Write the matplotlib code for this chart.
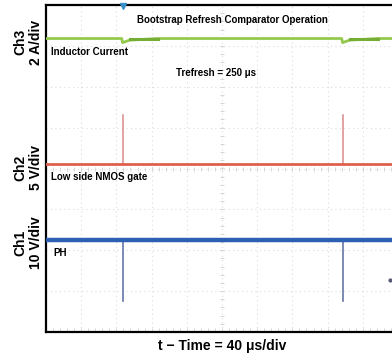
import numpy as np
import matplotlib
matplotlib.use("Agg")
import matplotlib.pyplot as plt

plt.rcParams['font.family'] = ['Liberation Sans', 'DejaVu Sans']

# Time axis: 40 us per division, 10 divisions
us_per_div = 40
t_start, t_end = 0, 400

# Refresh events (us)
refresh_times = [87, 337]

# Trace levels in screen divisions (0 = centre line)
ch3_level = 3.18          # inductor current baseline
ch3_dip = 3.08            # dip at refresh
ch2_level = 0.12          # low side NMOS gate baseline
ch2_peak = 1.32           # gate pulse top
ch1_level = -1.76         # PH node baseline
ch1_low = -3.25           # PH pulled low at refresh

W, H = 392, 360
fig = plt.figure(figsize=(W / 100, H / 100), dpi=100)
left, right, top, bottom = 46, 398, 5, 332
ax = fig.add_axes([left / W, 1 - bottom / H, (right - left) / W, (bottom - top) / H])
ax.set_xlim(t_start, t_end)
ax.set_ylim(-4, 4)
ax.set_xticks([]); ax.set_yticks([])
for s in ['left', 'top', 'bottom']:
    ax.spines[s].set_linewidth(1.6)
ax.spines['right'].set_visible(False)

# Graticule
grid_c = '#dcdcdc'
for k in range(1, 10):
    ax.axvline(k * us_per_div, color=grid_c, lw=0.8, ls=(0, (1, 3)), zorder=0)
for k in range(-3, 4):
    ax.axhline(k, color=grid_c, lw=0.8, ls=(0, (1, 3)), zorder=0)
minor_x = np.arange(t_start, t_end + 1, us_per_div / 5)
minor_y = np.arange(-4, 4.01, 0.2)
tick_c = '#d6d6d6'
ax.plot(minor_x, np.zeros_like(minor_x), '|', color=tick_c, ms=3, mew=0.7, zorder=0)
ax.plot(np.full_like(minor_y, 200), minor_y, '_', color=tick_c, ms=3, mew=0.7, zorder=0)
ax.plot(minor_x, np.full_like(minor_x, -3.95), '|', color=tick_c, ms=3, mew=0.7, zorder=0)

# Ch3: inductor current with small dips at each refresh
t = [t_start]
y = [ch3_level]
for tr in refresh_times:
    t += [tr - 1, tr, tr + 8, tr + 40]
    y += [ch3_level, ch3_dip, ch3_level - 0.04, ch3_level]
t.append(t_end); y.append(ch3_level)
ax.plot(t, y, color='#94c94e', lw=2, zorder=3)
for tr in refresh_times:
    ax.plot([tr + 8, tr + 40], [ch3_level - 0.02, ch3_level - 0.02], color='#74ae34', lw=2.2, zorder=3)

# Ch2: low side gate baseline and refresh pulses
ax.axhline(ch2_level, color='#e0604f', lw=2, zorder=3)
for tr in refresh_times:
    ax.plot([tr + 1, tr + 1], [ch2_level, ch2_peak], color='#d98a8a', lw=1.1, zorder=2)

# Ch1: PH node baseline and refresh pulses
ax.axhline(ch1_level, color='#2d5fb4', lw=3.2, zorder=4)
for tr in refresh_times:
    ax.plot([tr, tr], [ch1_level, ch1_low], color='#6677a8', lw=1.2, zorder=2)

# Trigger / level markers
ax.plot([88], [3.97], marker='v', color='#3a8fc8', ms=5, clip_on=False, zorder=5)
ax.plot([391], [-2.73], marker='o', color='#555a70', ms=2, zorder=5)

# Annotations
kw = dict(fontsize=7, fontweight='bold', color='black')
fig.text(232 / W, 1 - 20 / H, 'Bootstrap Refresh Comparator Operation', ha='center', va='center', **kw)
fig.text(51 / W, 1 - 52 / H, 'Inductor Current', ha='left', va='center', **kw)
fig.text(176 / W, 1 - 73 / H, 'Trefresh = 250 μs', ha='left', va='center', **kw)
fig.text(51 / W, 1 - 177 / H, 'Low side NMOS gate', ha='left', va='center', **kw)
fig.text(53 / W, 1 - 253 / H, 'PH', ha='left', va='center', **kw)

lab = dict(fontsize=10, fontweight='bold', rotation=90, ha='center', va='center',
           multialignment='center', linespacing=1.1)
fig.text(28 / W, 1 - 42 / H, 'Ch3\n2 A/div', **lab)
fig.text(28 / W, 1 - 168 / H, 'Ch2\n5 V/div', **lab)
fig.text(28 / W, 1 - 243 / H, 'Ch1\n10 V/div', **lab)

fig.text(222 / W, 1 - 346 / H, 't − Time = 40 μs/div', ha='center', va='center',
         fontsize=10, fontweight='bold')

fig.savefig('out.png', dpi=100)
